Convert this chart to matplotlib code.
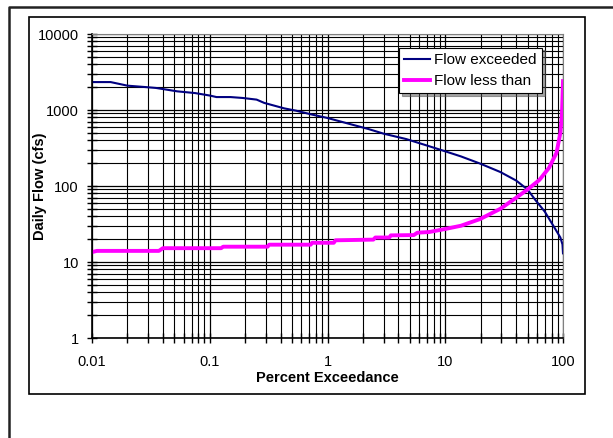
import matplotlib
matplotlib.use("Agg")
import matplotlib.pyplot as plt
from matplotlib.patches import Rectangle
from matplotlib.lines import Line2D
from matplotlib.ticker import LogLocator, NullFormatter, FixedLocator, FixedFormatter

plt.rcParams['font.family'] = ['Liberation Sans', 'DejaVu Sans']

# flow duration curve
exc_pct = [0.01, 0.0144, 0.02, 0.03, 0.035, 0.053, 0.075, 0.1, 0.114, 0.15, 0.19, 0.25, 0.29,
           0.43, 0.54, 0.74, 1.0, 1.6, 2.2, 3.0, 4.65, 6.9, 10, 13.6, 19.8, 29.3, 40, 50,
           58, 70, 85, 95, 99, 100]
exc_flow = [2330, 2330, 2090, 1990, 1950, 1760, 1670, 1550, 1480, 1480, 1440, 1370, 1240,
            1050, 980, 870, 785, 645, 565, 488, 415, 343, 286, 245, 197, 153, 118, 90,
            66, 46, 28, 21, 17, 13]

less_pct = [0.01, 0.011, 0.037, 0.04, 0.125, 0.13, 0.31, 0.32, 0.72, 0.74, 1.13, 1.17, 2.45,
            2.55, 3.35, 3.45, 5.4, 5.8, 7.3, 10, 13.6, 19.8, 29.3, 40, 50, 63, 76, 88,
            95, 98, 100]
less_flow = [13.5, 14, 14, 15.2, 15.2, 15.9, 15.9, 16.9, 16.9, 17.9, 17.9, 19.3, 19.7,
             21, 21, 22.4, 22.6, 24.3, 24.8, 27.2, 30, 36.8, 50, 70, 90, 120, 173, 272,
             500, 900, 2400]

fig = plt.figure(figsize=(6.13, 4.38), dpi=100)

# outer frame (only left and top edges show) and chart-area frame
fx, fy = 8.5 / 613, 1 - 6.5 / 438
fig.add_artist(Line2D([fx, fx, 1.0], [0.0, fy, fy], transform=fig.transFigure,
                      color="#222222", linewidth=1.8))
fig.patches.append(Rectangle((29 / 613, 1 - 394 / 438), 556 / 613, 377 / 438,
                             transform=fig.transFigure, fill=False, edgecolor="black", linewidth=1.2))

ax = fig.add_axes([92 / 613, 1 - 338 / 438, 471 / 613, 304 / 438])
ax.set_xscale("log")
ax.set_yscale("log")

ax.plot(exc_pct, exc_flow, color="#000080", linewidth=1.5, label="Flow exceeded")
ax.plot(less_pct, less_flow, color="#FF00FF", linewidth=2.8, label="Flow less than")

ax.set_xlim(0.01, 100)
ax.set_ylim(1, 10000)

ax.xaxis.set_major_locator(FixedLocator([0.01, 0.1, 1, 10, 100]))
ax.xaxis.set_major_formatter(FixedFormatter(["0.01", "0.1", "1", "10", "100"]))
ax.yaxis.set_major_locator(FixedLocator([1, 10, 100, 1000, 10000]))
ax.yaxis.set_major_formatter(FixedFormatter(["1", "10", "100", "1000", "10000"]))
ax.xaxis.set_minor_locator(LogLocator(base=10, subs=range(2, 10)))
ax.yaxis.set_minor_locator(LogLocator(base=10, subs=range(2, 10)))
ax.xaxis.set_minor_formatter(NullFormatter())
ax.yaxis.set_minor_formatter(NullFormatter())

ax.grid(True, which="major", color="black", linewidth=0.9)
ax.grid(True, which="minor", color="black", linewidth=0.8)
ax.set_axisbelow(True)
ax.tick_params(which="both", direction="inout", length=7, width=1, labelsize=10.5)
ax.tick_params(axis="x", which="major", pad=9)
ax.tick_params(axis="y", which="major", pad=6)
for s in ["top", "right"]:
    ax.spines[s].set_color("gray")
    ax.spines[s].set_linewidth(0.8)
for s in ["left", "bottom"]:
    ax.spines[s].set_linewidth(1.2)

ax.set_xlabel("Percent Exceedance", fontsize=10.5, fontweight="bold", labelpad=1)
ax.set_ylabel("Daily Flow (cfs)", fontsize=10.5, fontweight="bold")
ax.yaxis.set_label_coords(-0.0955, 0.5)

leg = ax.legend(loc="upper right", bbox_to_anchor=(0.955, 0.955), borderaxespad=0,
                fontsize=11, fancybox=False, shadow=True, framealpha=1,
                edgecolor="black", handlelength=1.7, handletextpad=0.25,
                labelspacing=0.45, borderpad=0.35)
leg.get_frame().set_linewidth(0.8)

fig.savefig("out.png", dpi=100)
